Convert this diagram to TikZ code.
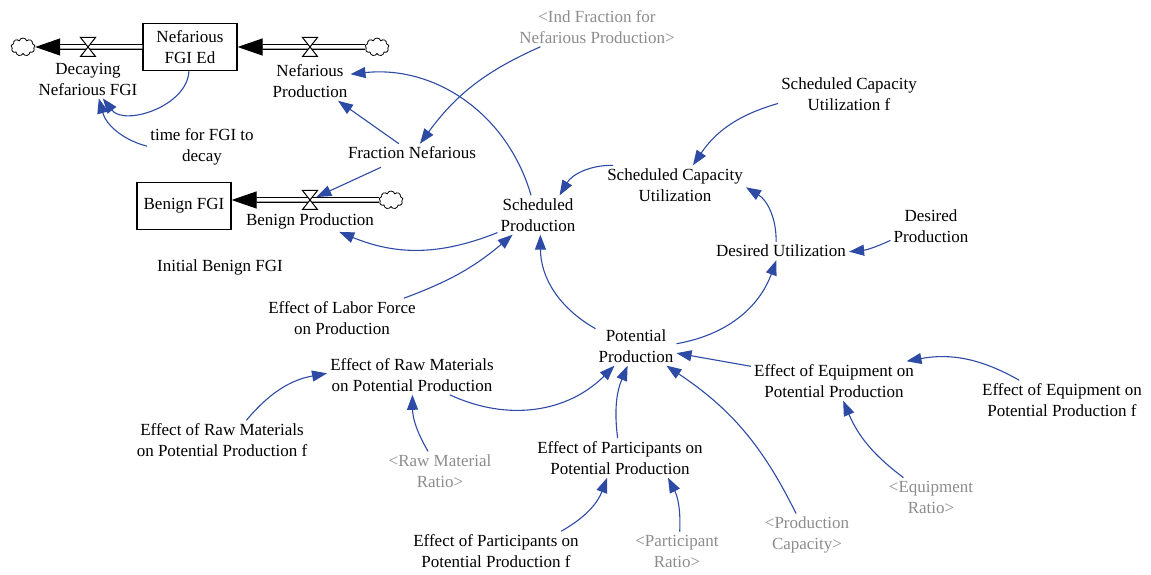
\documentclass[tikz,border=0pt]{standalone}
\usepackage{fontspec}
\setmainfont{Liberation Serif}
\usetikzlibrary{arrows.meta,shapes.symbols}

\definecolor{linkblue}{RGB}{45,75,165}
\definecolor{shadowgray}{RGB}{140,140,140}

\begin{document}
\begin{tikzpicture}[x=1pt,y=1pt,
  var/.style={align=center,inner sep=3pt,font=\fontsize{17}{21}\selectfont},
  shadow/.style={var,text=shadowgray},
  stock/.style={var,draw,line width=1.2pt,minimum width=94pt,minimum height=47pt},
  cloudy/.style={cloud,cloud puffs=9,draw,line width=0.8pt,minimum width=24pt,minimum height=18pt,inner sep=0pt},
  pipe/.style={double,double distance=3.5pt,line width=1.1pt,-{Triangle[length=25pt,width=17pt]}},
  link/.style={linkblue,line width=1.1pt,-{Triangle[length=15pt,width=11pt]}},
  valve/.pic={\draw[fill=white,line width=1pt] (-7.5,9.5) -- (7.5,9.5) -- (-7.5,-9.5) -- (7.5,-9.5) -- cycle;}
]
  \useasboundingbox (0,0) rectangle (1151,574);

  % Stocks and clouds
  \node[stock] (nefStock) at (190,527) {Nefarious\\FGI Ed};
  \node[stock] (benStock) at (184,368) {Benign FGI};
  \node[cloudy] (cloudL) at (23,527) {};
  \node[cloudy] (cloudN) at (377,527) {};
  \node[cloudy] (cloudB) at (391,374) {};

  % Flows
  \coordinate (decayV) at (88,527);
  \coordinate (nefV) at (310,527);
  \coordinate (benV) at (310,374);
  \draw[pipe] (nefStock.west) -- (cloudL);
  \draw[pipe] (cloudN) -- (nefStock.east);
  \draw[pipe] (cloudB) -- (benStock.east |- cloudB);
  \pic at (decayV) {valve};
  \pic at (nefV) {valve};
  \pic at (benV) {valve};

  % Variables
  \node[var] (decay) at (88,495) {Decaying\\Nefarious FGI};
  \node[var] (nefProd) at (310,493) {Nefarious\\Production};
  \node[var] (benProd) at (310,353) {Benign Production};
  \node[var] (tFGI) at (202,427) {time for FGI to\\decay};
  \node[var] (fracNef) at (412,421) {Fraction Nefarious};
  \node[shadow] (indFrac) at (597,547) {<Ind Fraction for\\Nefarious Production>};
  \node[var] (scuF) at (849,480) {Scheduled Capacity\\Utilization f};
  \node[var] (scu) at (675,389) {Scheduled Capacity\\Utilization};
  \node[var] (schedProd) at (538,359) {Scheduled\\Production};
  \node[var] (desProd) at (931,348) {Desired\\Production};
  \node[var] (desUtil) at (781,323) {Desired Utilization};
  \node[var] (initBen) at (220,307) {Initial Benign FGI};
  \node[var] (laborEff) at (342,256) {Effect of Labor Force\\on Production};
  \node[var] (potProd) at (636,228) {Potential\\Production};
  \node[var] (rawEff) at (412,199) {Effect of Raw Materials\\on Potential Production};
  \node[var] (eqEff) at (834,193) {Effect of Equipment on\\Potential Production};
  \node[var] (eqF) at (1062,174) {Effect of Equipment on\\Potential Production f};
  \node[var] (rawF) at (222,134) {Effect of Raw Materials\\on Potential Production f};
  \node[shadow] (rawRatio) at (440,103) {<Raw Material\\Ratio>};
  \node[var] (partEff) at (620,116) {Effect of Participants on\\Potential Production};
  \node[shadow] (partRatio) at (677,23) {<Participant\\Ratio>};
  \node[shadow] (prodCap) at (807,39) {<Production\\Capacity>};
  \node[shadow] (eqRatio) at (931,77) {<Equipment\\Ratio>};
  \node[var] (partF) at (496,23) {Effect of Participants on\\Potential Production f};

  % Links
  \draw[link] (nefStock) to[bend left=70] (decay);
  \draw[link] (tFGI) to[bend left=30] (decay);
  \draw[link] (fracNef) -- (nefProd);
  \draw[link,shorten <=12pt,shorten >=7pt] (fracNef) -- (benV);
  \draw[link] (indFrac) to[bend right=15] (fracNef);
  \draw[link] (schedProd) to[bend right=40] (nefProd);
  \draw[link] (schedProd) to[bend left=22] (benProd);
  \draw[link] (scu) to[bend right=30] (schedProd);
  \draw[link] (scuF) to[bend right=20] (scu);
  \draw[link] (desUtil) to[bend right=30] (scu);
  \draw[link] (desProd) to[bend left=10] (desUtil);
  \draw[link] (potProd) to[bend right=30] (desUtil);
  \draw[link] (potProd) to[bend left=30] (schedProd);
  \draw[link] (laborEff) to[bend right=10] (schedProd);
  \draw[link] (rawEff) to[bend right=35] (potProd);
  \draw[link] (partEff) to[bend left=15] (potProd);
  \draw[link] (eqEff) -- (potProd);
  \draw[link] (prodCap) to[bend right=15] (potProd);
  \draw[link] (eqF) to[bend right=20] (eqEff);
  \draw[link] (eqRatio) to[bend left=15] (eqEff);
  \draw[link] (rawF) to[bend left=20] (rawEff);
  \draw[link] (rawRatio) to[bend left=15] (rawEff);
  \draw[link] (partF) to[bend right=20] (partEff);
  \draw[link] (partRatio) to[bend right=15] ([xshift=48pt]partEff.south);

\end{tikzpicture}
\end{document}
